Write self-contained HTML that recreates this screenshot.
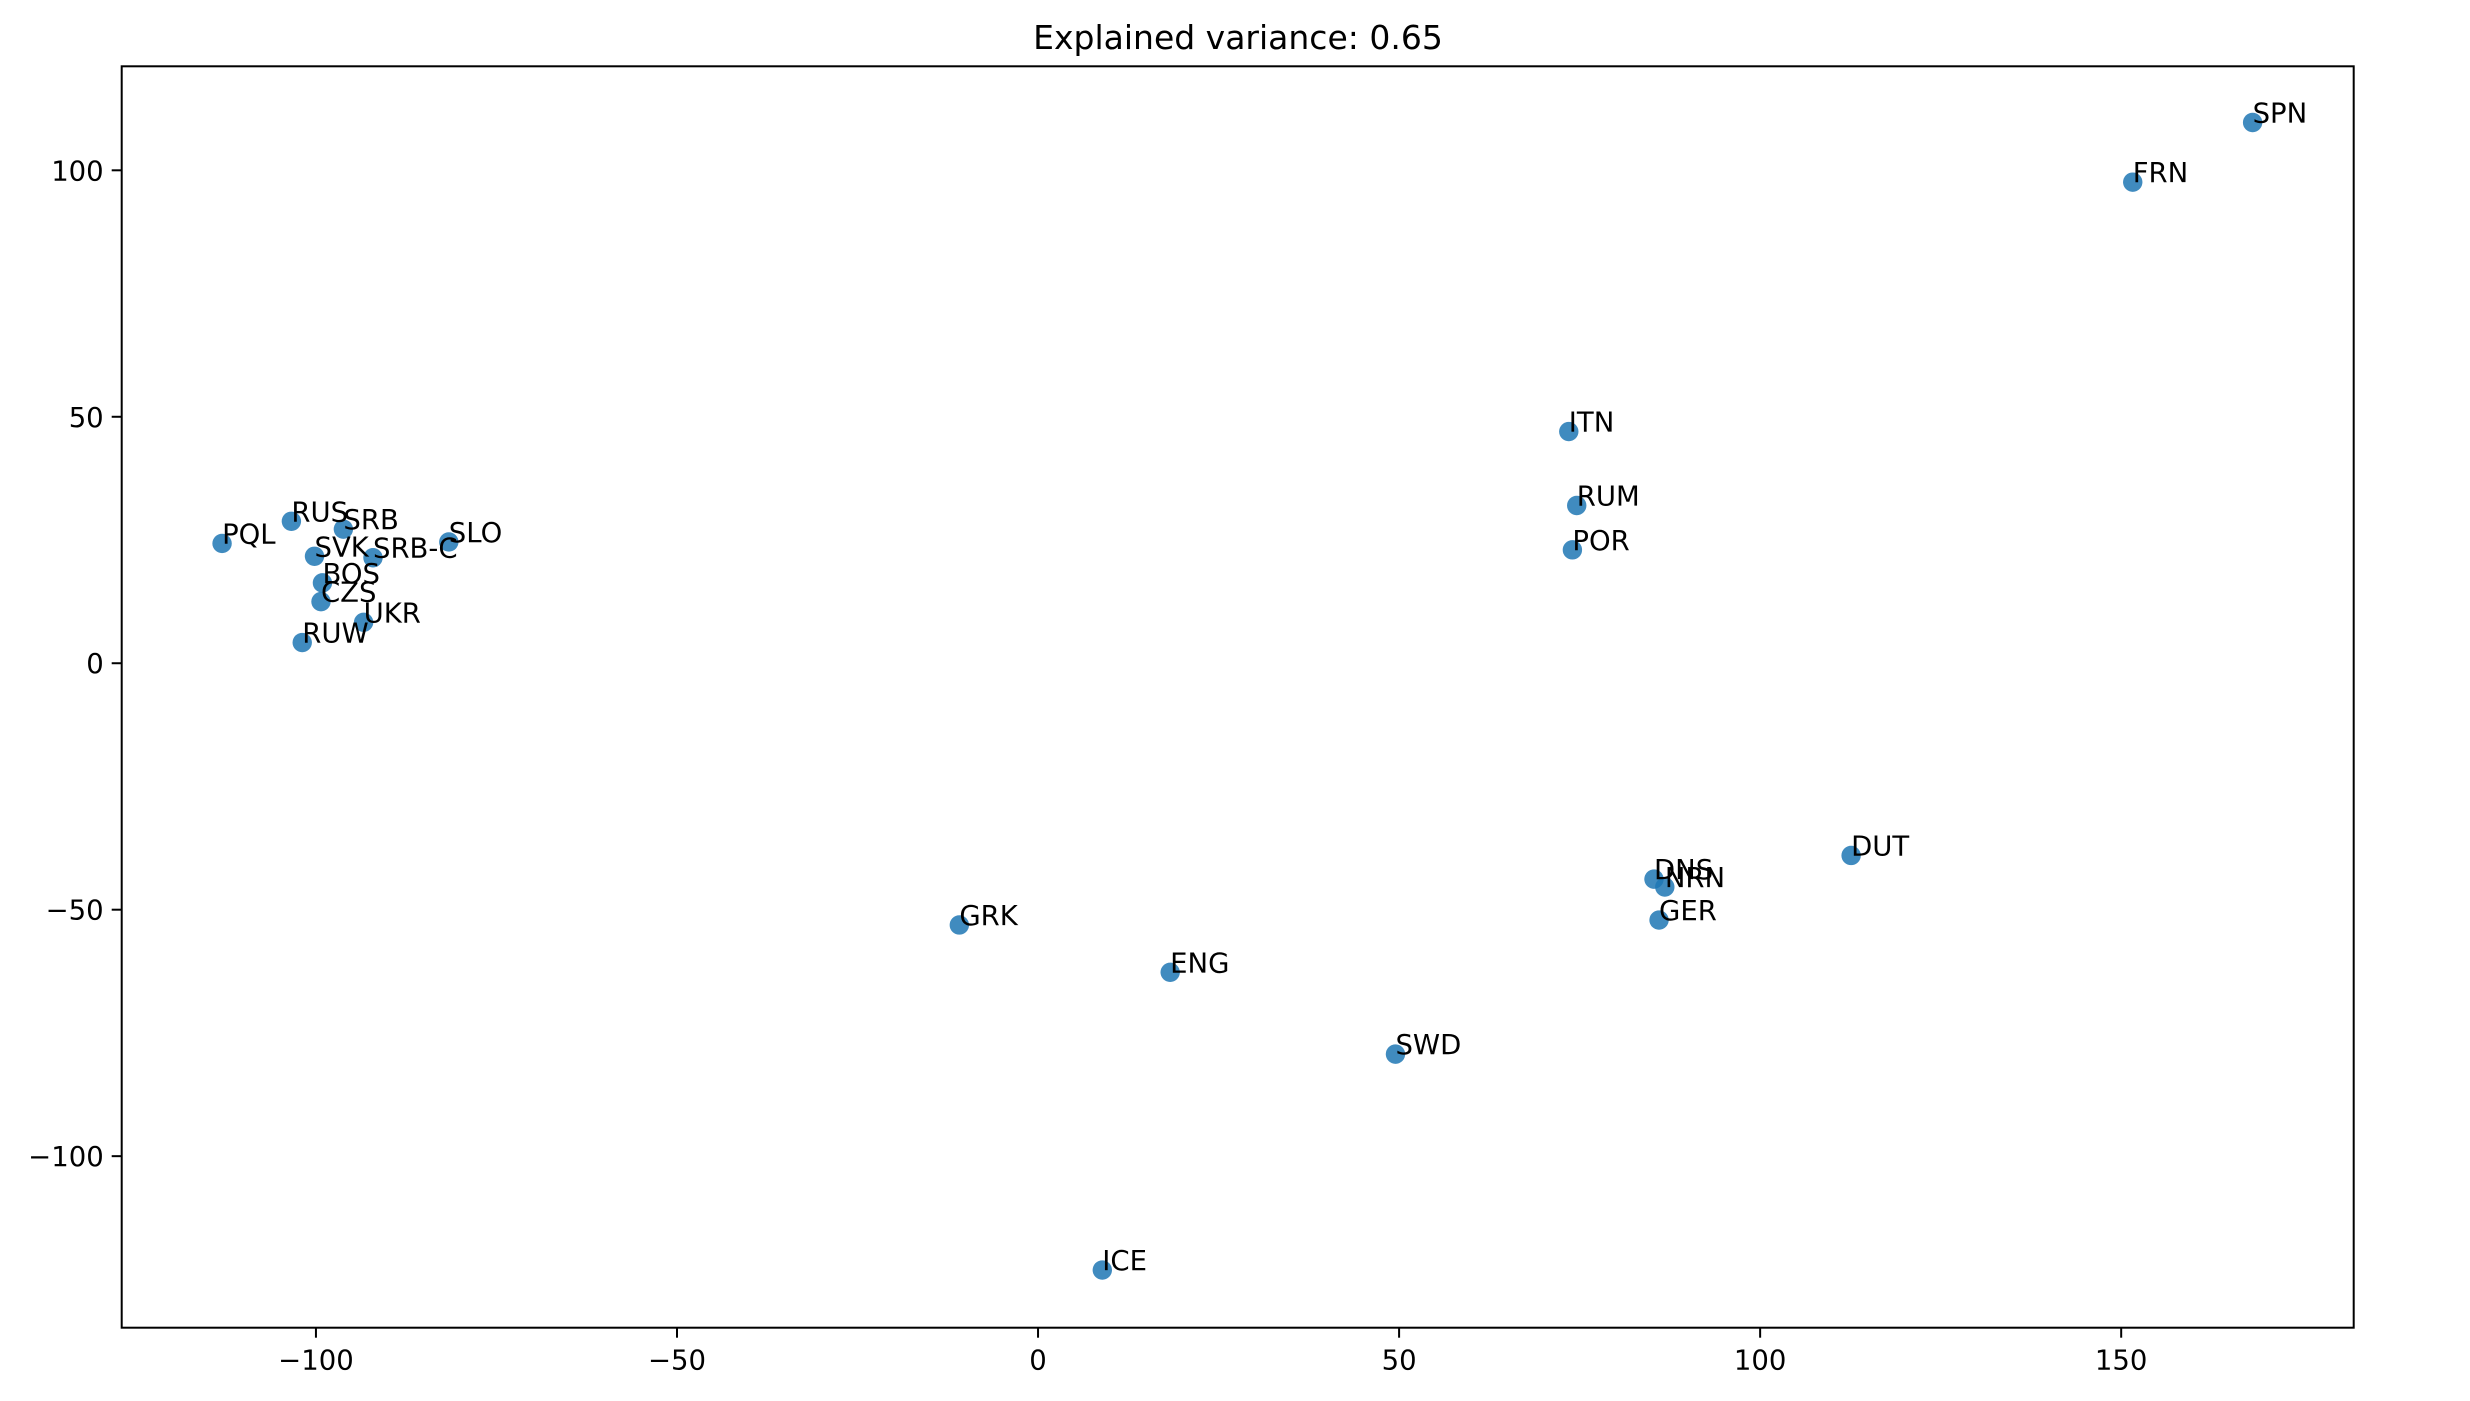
<!DOCTYPE html>
<html><head><meta charset="utf-8"><style>
body{margin:0;background:#fff}
svg text{font-family:"DejaVu Sans","Liberation Sans",sans-serif;fill:#000}
</style></head><body>
<svg id="chart" width="2470" height="1396" viewBox="0 0 2470 1396" xmlns="http://www.w3.org/2000/svg">
<rect width="2470" height="1396" fill="#fff"/>
<text x="1238" y="49" font-size="33" text-anchor="middle">Explained variance: 0.65</text>
<g id="marks"></g>
<g id="axes"></g>
</svg>
<script>
const labels=["PQL","RUS","SRB","SVK","SRB-C","SLO","BOS","CZS","UKR","RUW","ITN","RUM","POR","SPN","FRN","DUT","DNS","NRN","GER","GRK","ENG","SWD","ICE"];
const xs=[-113.0,-103.4,-96.2,-100.2,-92.1,-81.6,-99.1,-99.3,-93.4,-101.9,73.5,74.6,74.0,168.2,151.6,112.6,85.3,86.8,86.0,-10.9,18.3,49.5,8.9];
const ys=[24.3,28.8,27.2,21.7,21.4,24.6,16.3,12.5,8.3,4.2,47.0,32.0,23.0,109.7,97.6,-39.0,-43.8,-45.4,-52.1,-53.1,-62.7,-79.3,-123.1];
const xTicks=[-100,-50,0,50,100,150];
const yTicks=[-100,-50,0,50,100];
const L=121.7,R=2353.7,T=66.3,B=1327.7;
const xMin=-126.9,xMax=182.2,yMin=-134.8,yMax=121.1;
const sx=v=>L+(v-xMin)/(xMax-xMin)*(R-L);
const sy=v=>B-(v-yMin)/(yMax-yMin)*(B-T);
const NS="http://www.w3.org/2000/svg";
const marks=document.getElementById('marks'),axes=document.getElementById('axes');
function mk(tag,attrs,parent){const e=document.createElementNS(NS,tag);for(const k in attrs)e.setAttribute(k,attrs[k]);parent.appendChild(e);return e;}
labels.forEach((lab,i)=>{
  const c=mk('circle',{cx:sx(xs[i]),cy:sy(ys[i]),r:9.7,fill:'#1f77b4','fill-opacity':0.85},marks);
  
  
});
labels.forEach((lab,i)=>{
  const t=mk('text',{x:sx(xs[i]),y:sy(ys[i]),'font-size':27.5},marks);
  t.textContent=lab;
  
  
});
const fr=mk('rect',{x:L,y:T,width:R-L,height:B-T,fill:'none',stroke:'#000','stroke-width':2},axes);


xTicks.forEach(v=>{
  const x=sx(v);
  const l=mk('line',{x1:x,x2:x,y1:B,y2:B+10,stroke:'#000','stroke-width':2},axes);
  
  
  const t=mk('text',{x:x,y:B+42,'font-size':27.5,'text-anchor':'middle'},axes);
  t.textContent=v<0?'\u2212'+(-v):String(v);
  
  
});
yTicks.forEach(v=>{
  const y=sy(v);
  const l=mk('line',{x1:L-10,x2:L,y1:y,y2:y,stroke:'#000','stroke-width':2},axes);
  
  
  const t=mk('text',{x:L-18,y:y+10,'font-size':27.5,'text-anchor':'end'},axes);
  t.textContent=v<0?'\u2212'+(-v):String(v);
  
  
});
</script>
</body></html>
